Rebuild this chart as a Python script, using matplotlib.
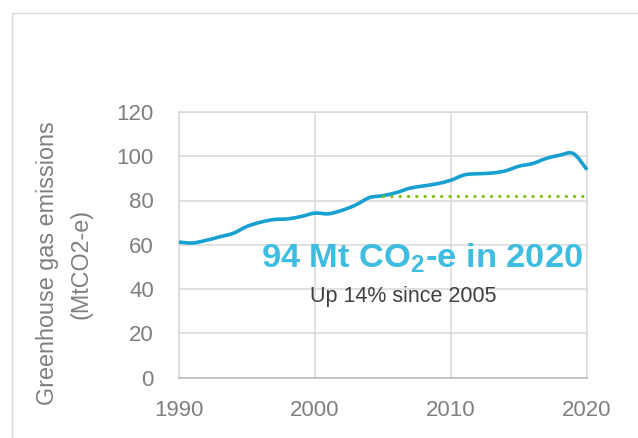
import matplotlib
matplotlib.use("Agg")
import matplotlib.pyplot as plt
from matplotlib.patches import Rectangle, PathPatch
from matplotlib.path import Path

years = list(range(1990, 2021))
emissions = [61.2, 60.8, 62.0, 63.6, 65.2, 68.3, 70.2, 71.4, 71.7, 72.8, 74.3,
             74.0, 75.6, 78.0, 81.3, 82.2, 83.6, 85.6, 86.6, 87.6, 89.2,
             91.6, 92.1, 92.4, 93.4, 95.5, 96.7, 99.0, 100.5, 101.2, 93.9]
baseline_year_start = 2005
baseline_year_end = 2020
baseline_value = 82.2
x_ticks = [1990, 2000, 2010, 2020]
y_ticks = [0, 20, 40, 60, 80, 100, 120]
title_text = r"94 Mt CO$_\mathrm{2}$-e in 2020"
sub_text = "Up 14% since 2005"
ylabel_1 = "Greenhouse gas emissions"
ylabel_2 = "(MtCO2-e)"

plt.rcParams['font.family'] = ['Liberation Sans', 'DejaVu Sans']
plt.rcParams['mathtext.fontset'] = 'custom'
plt.rcParams['mathtext.rm'] = 'Liberation Sans:bold'
plt.rcParams['mathtext.it'] = 'Liberation Sans:bold'
plt.rcParams['mathtext.bf'] = 'Liberation Sans:bold'


def smooth_path(xs, ys):
    """Excel-style smoothed line: cubic Bezier segments through the points."""
    n = len(xs)
    verts = [(xs[0], ys[0])]
    codes = [Path.MOVETO]
    for i in range(n - 1):
        x0, y0 = xs[max(i - 1, 0)], ys[max(i - 1, 0)]
        x1, y1 = xs[i], ys[i]
        x2, y2 = xs[i + 1], ys[i + 1]
        x3, y3 = xs[min(i + 2, n - 1)], ys[min(i + 2, n - 1)]
        c1 = (x1 + (x2 - x0) / 6.0, y1 + (y2 - y0) / 6.0)
        c2 = (x2 - (x3 - x1) / 6.0, y2 - (y3 - y1) / 6.0)
        verts += [c1, c2, (x2, y2)]
        codes += [Path.CURVE4] * 3
    return Path(verts, codes)


fig = plt.figure(figsize=(6.38, 4.38), dpi=100)
W, H = 638, 438
fig.patches.append(Rectangle((12 / W, -0.1), 1.2, 1 - 13 / H + 0.1,
                             transform=fig.transFigure, fill=False,
                             edgecolor='#d9d9d9', linewidth=1.0))

ax = fig.add_axes([179 / W, 1 - 377.5 / H, (587 - 179) / W, (377.5 - 112) / H])
ax.set_xlim(1990, 2020)
ax.set_ylim(0, 120)
ax.set_xticks(x_ticks)
ax.set_yticks(y_ticks)
ax.grid(True, color='#d9d9d9', linewidth=1.1)
ax.set_axisbelow(True)
for s in ['top', 'right', 'left']:
    ax.spines[s].set_color('#d9d9d9')
    ax.spines[s].set_linewidth(1.1)
ax.spines['bottom'].set_color('#bfbfbf')
ax.spines['bottom'].set_linewidth(1.3)
ax.tick_params(length=0, colors='#7f7f7f', labelsize=16)
ax.tick_params(axis='y', pad=18)
ax.tick_params(axis='x', pad=16)

ax.add_patch(PathPatch(smooth_path(years, emissions), facecolor='none',
                       edgecolor='#17a0d0', linewidth=2.6, capstyle='butt',
                       joinstyle='round', clip_on=False, zorder=3))
ax.plot([baseline_year_start, baseline_year_end], [baseline_value, baseline_value],
        color='#78c20a', linewidth=2.3, linestyle=(0, (0.05, 2.55)),
        dash_capstyle='round', zorder=4)

ax.text(2007.9, 49.5, title_text, color='#3ebde0', fontsize=24.8,
        fontweight='bold', ha='center', va='baseline', zorder=5)
ax.text(2006.5, 34.2, sub_text, color='#404040', fontsize=15.5,
        ha='center', va='baseline', zorder=5)

fig.text(48 / W, 1 - 263 / H, ylabel_1, rotation=90, color='#7f7f7f',
         fontsize=16.8, ha='center', va='center')
fig.text(81 / W, 1 - 264 / H, ylabel_2, rotation=90, color='#7f7f7f',
         fontsize=16.8, ha='center', va='center')

fig.savefig('out.png', dpi=100)
